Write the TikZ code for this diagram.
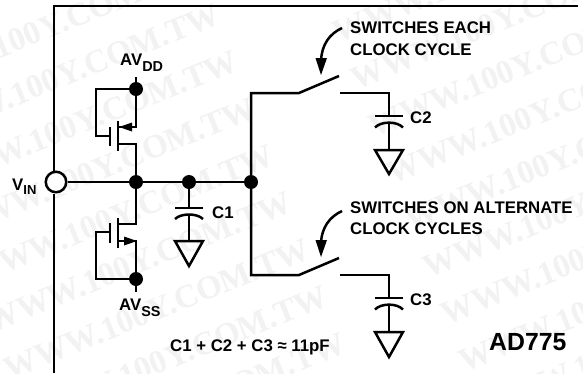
\documentclass[tikz,border=0pt]{standalone}
\usepackage{fontspec}
\setmainfont{Liberation Sans}
\newfontfamily\wmfont{Liberation Serif}
\definecolor{wmgray}{gray}{0.95}
\tikzset{
  wire/.style={line width=2.5pt,line cap=butt,line join=miter,black},
  dotnode/.style={circle,fill=black,draw=none,inner sep=0pt,minimum size=14pt},
  ringnode/.style={circle,fill=white,draw=black,line width=2.5pt,inner sep=0pt,minimum size=20.5pt},
  lab/.style={inner sep=0pt,anchor=base west,font=\bfseries\fontsize{16.8}{17}\selectfont},
  wmark/.style={inner sep=0pt,rotate=22,text=wmgray,font=\wmfont\bfseries\fontsize{33}{33}\selectfont},
  tiph/.style={fill=black,draw=none},
}
\newcommand{\subtxt}[1]{\raisebox{-6pt}{\fontsize{14.4}{15}\selectfont #1}}
\begin{document}
\begin{tikzpicture}[x=1pt,y=-1pt]
\useasboundingbox (0,0) rectangle (583,373);
\fill[white] (0,0) rectangle (583,373);
% watermark
\foreach \x/\y in {49/27,67/74,85/121,103/168,121/215,139/262,157/309,175/356,193/403,
                   486/-28,504/19,522/66,540/113,558/160,576/207,594/254,612/301,630/348,648/395}
  \node[wmark] at (\x,\y) {WWW.100Y.COM.TW};
% nodes
\node[ringnode] (vin) at (56,182) {};
\node[dotnode] (j1) at (136,182) {};
\node[dotnode] (j2) at (189,182) {};
\node[dotnode] (j3) at (251,182) {};
\node[dotnode] (vdd) at (136,89) {};
\node[dotnode] (vss) at (136,279) {};
% frame
\coordinate (ftl) at (54,6);
\coordinate (ftr) at (578,6);
\coordinate (fbl) at (54,373);
\draw[wire] (vin.north -| ftl) -- (ftl) -- (ftr);
\draw[wire] (vin.south -| fbl) -- (fbl);
% bus
\draw[wire] (vin) -- (j3);
% stubs
\coordinate (vddtop) at (136,77);
\coordinate (vssbot) at (136,292);
\draw[wire] (vdd) -- (vddtop);
\draw[wire] (vss) -- (vssbot);
% upper MOSFET
\coordinate (ug) at (110,136);
\coordinate (usrc) at (118,127);
\coordinate (udrn) at (118,144);
\draw[wire] (vdd) -- (96,89) -- (96,136) -- (ug);
\draw[wire] (110,127) -- (110,146);
\draw[wire] (118,121) -- (118,151);
\draw[wire] (vdd) -- (136,127) -- (usrc);
\draw[wire] (udrn) -- (136,144) -- (j1);
\fill[tiph] (119,127) -- (132,122.5) -- (132,131.5) -- cycle;
% lower MOSFET
\coordinate (lg) at (110,232);
\coordinate (lsrc) at (118,241);
\coordinate (ldrn) at (118,224);
\draw[wire] (vss) -- (96,279) -- (96,232) -- (lg);
\draw[wire] (110,223) -- (110,243);
\draw[wire] (118,218) -- (118,248);
\draw[wire] (vss) -- (136,241) -- (lsrc);
\draw[wire] (ldrn) -- (136,224) -- (j1);
\fill[tiph] (137,241) -- (124,236.5) -- (124,245.5) -- cycle;
% C1
\draw[wire] (j2) -- (189,208);
\draw[wire] (175,208) -- (203,208);
\draw[wire] (175,219) .. controls (181,213) and (197,213) .. (203,219);
\draw[wire] (189,215) -- (189,241);
\draw[wire] (175,241) -- (203,241) -- (189,266) -- cycle;
% top switch and C2
\coordinate (s1a) at (299,93);
\coordinate (s1b) at (339,76);
\coordinate (s1c) at (340,93);
\draw[wire] (j3) -- (251,93) -- (s1a) -- (s1b);
\draw[wire] (s1c) -- (389,93) -- (389,116);
\draw[wire] (375,116) -- (403,116);
\draw[wire] (375,127.5) .. controls (381,121) and (397,121) .. (403,127.5);
\draw[wire] (389,123) -- (389,150);
\draw[wire] (375,150) -- (403,150) -- (389,174) -- cycle;
% bottom switch and C3
\coordinate (s2a) at (299,275);
\coordinate (s2b) at (339,258);
\coordinate (s2c) at (340,275);
\draw[wire] (j3) -- (251,275) -- (s2a) -- (s2b);
\draw[wire] (s2c) -- (389,275) -- (389,298);
\draw[wire] (375,298) -- (403,298);
\draw[wire] (375,309.5) .. controls (381,303) and (397,303) .. (403,309.5);
\draw[wire] (389,305) -- (389,332);
\draw[wire] (375,332) -- (403,332) -- (389,357) -- cycle;
% callout arrows
\draw[wire] (342,28) .. controls (329,34) and (322,45) .. (321,60);
\fill[tiph] (321,75) -- (315.5,58) -- (327,58) -- cycle;
\draw[wire] (342,211) .. controls (329,217) and (322,228) .. (321,242);
\fill[tiph] (321,257) -- (315.5,240) -- (327,240) -- cycle;
% labels
\node[lab] (t1) at (350,33) {SWITCHES EACH};
\node[lab] (t2) at (350,55) {CLOCK CYCLE};
\node[lab] (t3) at (350,213) {SWITCHES ON ALTERNATE};
\node[lab] (t4) at (350,234) {CLOCK CYCLES};
\node[lab] (c1) at (212,218) {C1};
\node[lab] (c2) at (410,123) {C2};
\node[lab] (c3) at (410,305) {C3};
\node[lab] (eq) at (170,351) {C1 + C2 + C3 ≈ 11pF};
\node[lab,font=\bfseries\fontsize{24.8}{25}\selectfont] (ad) at (489,350) {AD775};
\node[lab] (avdd) at (120,65) {AV\subtxt{DD}};
\node[lab] (avss) at (119,310) {AV\subtxt{SS}};
\node[lab] (vinl) at (12,190) {V\raisebox{-4pt}{\fontsize{13}{14}\selectfont IN}};
\end{tikzpicture}
\end{document}
